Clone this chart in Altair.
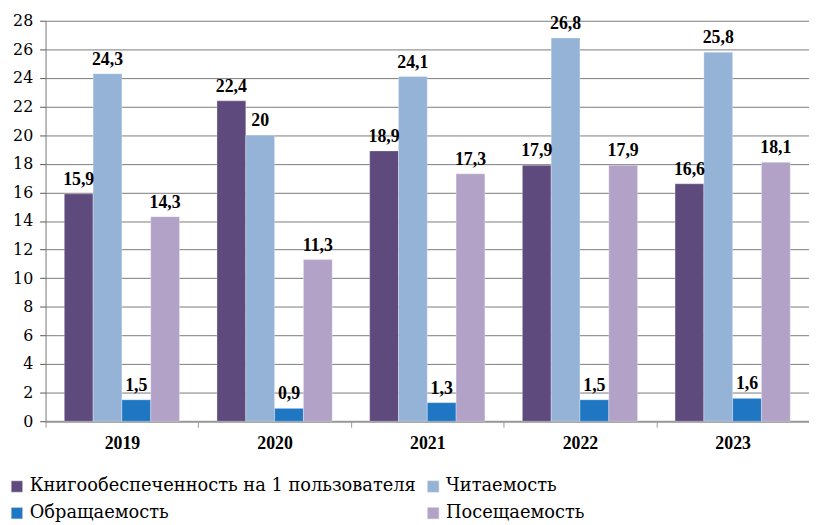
import altair as alt
import pandas as pd

years = ["2019", "2020", "2021", "2022", "2023"]
series = ["Книгообеспеченность на 1 пользователя", "Читаемость", "Обращаемость", "Посещаемость"]
knigo = [15.9, 22.4, 18.9, 17.9, 16.6]
chit = [24.3, 20.0, 24.1, 26.8, 25.8]
obr = [1.5, 0.9, 1.3, 1.5, 1.6]
pos = [14.3, 11.3, 17.3, 17.9, 18.1]
y_ticks = list(range(0, 29, 2))
colors = ["#5f4a7d", "#95b3d7", "#1f77c4", "#b3a2c7"]

rows = []
for s, vals in zip(series, [knigo, chit, obr, pos]):
    for y, v in zip(years, vals):
        rows.append({"year": y, "series": s, "value": v,
                     "label": ("%g" % v).replace(".", ",")})
df = pd.DataFrame(rows)

serif = "Liberation Serif"
serif_reg = "DejaVu Serif"

x_axis = alt.Axis(labelFont=serif, labelFontSize=18, labelFontWeight="bold",
                  labelColor="black", labelAngle=0, labelPadding=8,
                  domainColor="#9a9a9a", domainWidth=2, tickColor="#9a9a9a",
                  tickBand="extent", tickSize=6, grid=False)
y_axis = alt.Axis(values=y_ticks, labelFont=serif_reg, labelFontSize=16,
                  labelColor="black", labelPadding=7, tickSize=6, tickColor="#555",
                  labelOverlap=False, labelFlush=False,
                  domainColor="#777", gridColor="#7a7a7a", gridWidth=1)
x = alt.X("year:N", title=None, sort=years,
          scale=alt.Scale(paddingInner=0, paddingOuter=0), axis=x_axis)
xo = alt.XOffset("series:N", sort=series,
                 scale=alt.Scale(paddingInner=0, paddingOuter=0.65))
y = alt.Y("value:Q", title=None,
          scale=alt.Scale(domain=[0, 28], nice=False), axis=y_axis)

bars = alt.Chart(df).mark_bar(stroke="#ffffff", strokeWidth=0.5, strokeOpacity=0.6).encode(
    x=x, xOffset=xo, y=y,
    color=alt.Color("series:N", sort=series,
                    scale=alt.Scale(domain=series, range=colors),
                    legend=alt.Legend(title=None, orient="none", legendX=-38, legendY=462,
                                      direction="horizontal", columns=2,
                                      symbolType="square", symbolSize=130,
                                      symbolStrokeColor="#cccccc", symbolStrokeWidth=0.5,
                                      labelFont=serif_reg, labelFontSize=18, labelColor="black",
                                      labelOffset=4, columnPadding=8, rowPadding=9,
                                      labelLimit=700))
)

labels = alt.Chart(df).mark_text(baseline="bottom", dy=-5, font=serif, fontSize=18,
                                 fontWeight="bold", color="black").encode(
    x=x, xOffset=xo, y=y,
    text="label:N"
)

chart = alt.layer(bars, labels).properties(
    width=772, height=405,
    padding={"left": 38, "top": 10, "right": 0, "bottom": 99},
    autosize=alt.AutoSizeParams(type="none"),
).configure_view(stroke=None)

chart.save("out.html", embed_options={"renderer": "svg", "actions": False})
